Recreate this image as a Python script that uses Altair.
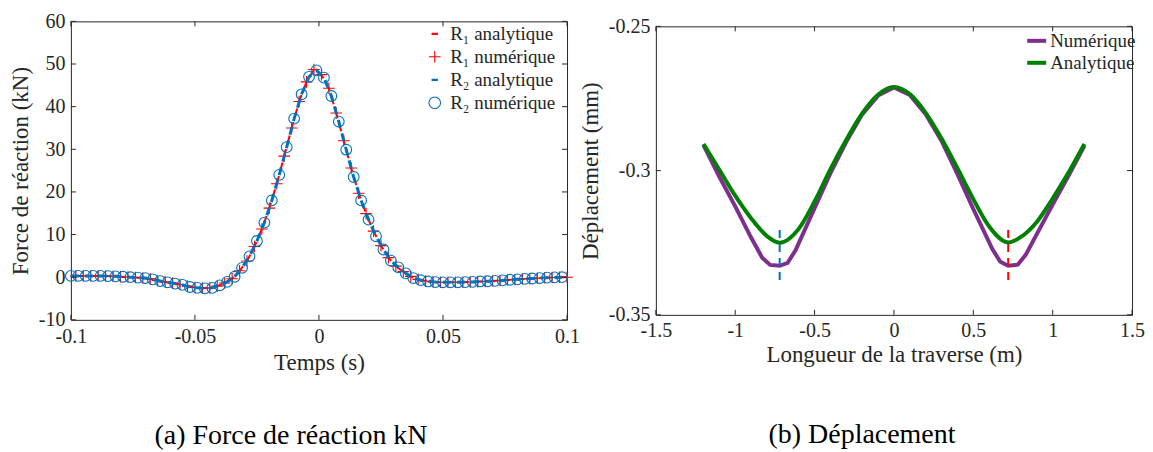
import altair as alt
import pandas as pd

# ---------------- (a) reaction forces ----------------
t_r2 = [-0.100, -0.097, -0.094, -0.091, -0.088, -0.085, -0.082, -0.079, -0.076, -0.073,
        -0.070, -0.067, -0.064, -0.061, -0.058, -0.055, -0.052, -0.049, -0.046, -0.043,
        -0.040, -0.037, -0.034, -0.031, -0.028, -0.025, -0.022, -0.019, -0.016, -0.013,
        -0.010, -0.007, -0.004, -0.001, 0.002, 0.005, 0.008, 0.011, 0.014, 0.017,
        0.020, 0.023, 0.026, 0.029, 0.032, 0.035, 0.038, 0.041, 0.044, 0.047,
        0.050, 0.053, 0.056, 0.059, 0.062, 0.065, 0.068, 0.071, 0.074, 0.077,
        0.080, 0.083, 0.086, 0.089, 0.092, 0.095, 0.098]
r2 = [0.3, 0.3, 0.3, 0.3, 0.3, 0.25, 0.2, 0.1, 0.0, -0.1,
      -0.2, -0.5, -0.9, -1.2, -1.5, -1.8, -2.3, -2.5, -2.6, -2.5,
      -1.9, -1.1, 0.1, 2.2, 4.9, 8.5, 12.8, 18.0, 24.0, 30.5,
      37.2, 42.9, 47.0, 48.5, 46.8, 42.5, 36.5, 29.9, 23.5, 18.0,
      13.5, 9.6, 6.5, 3.9, 2.3, 0.9, -0.2, -0.7, -1.0, -1.15,
      -1.2, -1.2, -1.2, -1.15, -1.1, -1.0, -0.95, -0.85, -0.75, -0.6,
      -0.5, -0.4, -0.3, -0.2, -0.1, -0.05, 0.0]
t_r1 = [-0.098, -0.095, -0.092, -0.089, -0.086, -0.083, -0.080, -0.077, -0.074, -0.071,
        -0.068, -0.065, -0.062, -0.059, -0.056, -0.053, -0.050, -0.047, -0.044, -0.041,
        -0.038, -0.035, -0.032, -0.029, -0.026, -0.023, -0.020, -0.017, -0.014, -0.011,
        -0.008, -0.005, -0.002, 0.001, 0.004, 0.007, 0.010, 0.013, 0.016, 0.019,
        0.022, 0.025, 0.028, 0.031, 0.034, 0.037, 0.040, 0.043, 0.046, 0.049,
        0.052, 0.055, 0.058, 0.061, 0.064, 0.067, 0.070, 0.073, 0.076, 0.079,
        0.082, 0.085, 0.088, 0.091, 0.094, 0.097, 0.100]
r1 = [0.3, 0.3, 0.3, 0.3, 0.27, 0.22, 0.13, 0.03, -0.07, -0.17,
      -0.4, -0.77, -1.1, -1.4, -1.7, -2.1, -2.43, -2.57, -2.53, -2.1,
      -1.37, -0.37, 1.5, 3.8, 7.2, 11.3, 16.2, 21.9, 28.4, 35.0,
      41.2, 45.8, 48.7, 47.5, 44.3, 38.5, 32.0, 25.6, 19.7, 14.9,
      10.8, 7.4, 4.6, 2.6, 1.3, 0.2, -0.5, -0.9, -1.1, -1.18,
      -1.2, -1.2, -1.17, -1.12, -1.03, -0.97, -0.88, -0.78, -0.65, -0.53,
      -0.43, -0.33, -0.23, -0.13, -0.07, -0.02, 0.0]
x_ticks_a = [-0.1, -0.05, 0, 0.05, 0.1]
y_ticks_a = [-10, 0, 10, 20, 30, 40, 50, 60]
series_a = ["R₁ analytique", "R₁ numérique", "R₂ analytique", "R₂ numérique"]

# ---------------- (b) displacement ----------------
x_num = [-1.2, -1.1, -1.0, -0.9, -0.83, -0.78, -0.72, -0.67, -0.62, -0.5, -0.4, -0.3, -0.2, -0.1, 0.0,
         0.1, 0.2, 0.3, 0.4, 0.5, 0.62, 0.67, 0.72, 0.78, 0.83, 0.9, 1.0, 1.1, 1.2]
u_num = [-0.2912, -0.3022, -0.3124, -0.3232, -0.3302, -0.3327, -0.3330, -0.3320, -0.3276, -0.3130,
         -0.3009, -0.2900, -0.2805, -0.2740, -0.2712,
         -0.2738, -0.2805, -0.2897, -0.3012, -0.3133, -0.3272, -0.3316, -0.3330, -0.3326, -0.3292,
         -0.3220, -0.3118, -0.3018, -0.2914]
x_ana = [-1.2, -1.1, -1.0, -0.9, -0.8, -0.72, -0.6, -0.5, -0.4, -0.3, -0.2, -0.1, 0.0,
         0.1, 0.2, 0.3, 0.4, 0.5, 0.6, 0.72, 0.8, 0.9, 1.0, 1.1, 1.2]
u_ana = [-0.2908, -0.2997, -0.3087, -0.3165, -0.3227, -0.3250, -0.3202, -0.3107, -0.2995, -0.2893,
         -0.2802, -0.2737, -0.2710,
         -0.2735, -0.2800, -0.2889, -0.2992, -0.3099, -0.3194, -0.3249, -0.3230, -0.3178, -0.3097,
         -0.3007, -0.2908]
marker_x = [-0.72, 0.72]
marker_top = [-0.3206, -0.3206]
marker_bottom = [-0.3400, -0.3400]
x_ticks_b = [-1.5, -1, -0.5, 0, 0.5, 1, 1.5]
y_ticks_b = [-0.35, -0.3, -0.25]
series_b = ["Numérique", "Analytique"]

# ---------------- styling ----------------
FONT = "Liberation Serif"
TXT = "#262626"
RED, BLUE = "#FF0000", "#0072BD"
PURPLE, GREEN = "#7E2F8E", "#008000"
WA, HA = 497, 299
WB, HB = 477, 289
TICK = 5
PLUS = "M-1,0L1,0M0,-1L0,1"
CIRC = "M1,0A1,1,0,1,1,-1,0A1,1,0,1,1,1,0Z"
DASH = "M-0.55,-0.1L0.55,-0.1M-0.55,0L0.55,0M-0.55,0.1L0.55,0.1"
MINUS_FIX = "replace(datum.label, '\u2212', '-')"

# ---------------- chart (a) ----------------
df_r1 = pd.DataFrame({"t": t_r1, "f": r1})
df_r2 = pd.DataFrame({"t": t_r2, "f": r2})

xa = alt.X("t:Q", scale=alt.Scale(domain=[-0.1, 0.1], nice=False, zero=False),
           axis=alt.Axis(values=x_ticks_a, format="~g", labelExpr=MINUS_FIX,
                         title="Temps (s)", titlePadding=5, labelPadding=7))
ya = alt.Y("f:Q", scale=alt.Scale(domain=[-10, 60], nice=False, zero=False),
           axis=alt.Axis(values=y_ticks_a, format="d", labelExpr=MINUS_FIX,
                         title="Force de réaction (kN)", titlePadding=6))

leg_a = alt.Legend(title=None, orient="none", legendX=355, legendY=3,
                   labelFontSize=19, symbolSize=135, symbolStrokeWidth=1.1,
                   rowPadding=3, labelOffset=6, symbolFillColor="transparent")
col_a = alt.Color("sa:N", scale=alt.Scale(domain=series_a, range=[RED, RED, BLUE, BLUE]), legend=leg_a)
shp_a = alt.Shape("sa:N", scale=alt.Scale(domain=series_a, range=[DASH, PLUS, DASH, CIRC]), legend=leg_a)

l_r1a = alt.Chart(df_r1.assign(sa=series_a[0])).mark_line(strokeWidth=2, strokeDash=[8, 6]).encode(
    x=xa, y=ya, color=col_a)
l_r1n = alt.Chart(df_r1.assign(sa=series_a[1])).mark_point(filled=False, size=135, strokeWidth=1.1, opacity=1).encode(
    x=xa, y=ya, color=col_a, shape=shp_a)
l_r2a = alt.Chart(df_r2.assign(sa=series_a[2])).mark_line(strokeWidth=3, strokeDash=[8, 6]).encode(
    x=xa, y=ya, color=col_a)
l_r2n = alt.Chart(df_r2.assign(sa=series_a[3])).mark_point(filled=False, size=115, strokeWidth=1.1, opacity=1).encode(
    x=xa, y=ya, color=col_a, shape=shp_a)

dxa = pd.DataFrame({"t": x_ticks_a})
dya = pd.DataFrame({"f": y_ticks_a})
ticks_a = [
    alt.Chart(dxa).mark_rule(color=TXT).encode(x=xa, y=alt.value(HA), y2=alt.value(HA - TICK)),
    alt.Chart(dxa).mark_rule(color=TXT).encode(x=xa, y=alt.value(0), y2=alt.value(TICK)),
    alt.Chart(dya).mark_rule(color=TXT).encode(y=ya, x=alt.value(0), x2=alt.value(TICK)),
    alt.Chart(dya).mark_rule(color=TXT).encode(y=ya, x=alt.value(WA), x2=alt.value(WA - TICK)),
]

chart_a = alt.layer(l_r1a, l_r1n, l_r2a, l_r2n, *ticks_a).properties(
    width=WA, height=HA,
    title=alt.TitleParams("(a) Force de réaction kN", orient="bottom", offset=47, dx=-28,
                          font=FONT, fontSize=28, fontWeight="normal", color="#000"))

# ---------------- chart (b) ----------------
xb = alt.X("x:Q", scale=alt.Scale(domain=[-1.5, 1.5], nice=False, zero=False),
           axis=alt.Axis(values=x_ticks_b, format="~g", labelExpr=MINUS_FIX,
                         title="Longueur de la traverse (m)", titlePadding=3))
yb = alt.Y("u:Q", scale=alt.Scale(domain=[-0.35, -0.25], nice=False, zero=False),
           axis=alt.Axis(values=y_ticks_b, format="~g", labelExpr=MINUS_FIX,
                         title="Déplacement (mm)", titlePadding=6))
leg_b = alt.Legend(title=None, orient="none", legendX=370, legendY=8,
                   labelFontSize=19, symbolType="stroke", symbolSize=361, symbolStrokeWidth=4,
                   rowPadding=0, labelOffset=2)
col_b = alt.Color("sb:N", scale=alt.Scale(domain=series_b, range=[PURPLE, GREEN]), legend=leg_b)

df_num = pd.DataFrame({"x": x_num, "u": u_num, "sb": series_b[0]})
df_ana = pd.DataFrame({"x": x_ana, "u": u_ana, "sb": series_b[1]})
l_num = alt.Chart(df_num).mark_line(strokeWidth=4).encode(x=xb, y=yb, color=col_b)
l_ana = alt.Chart(df_ana).mark_line(strokeWidth=4, interpolate="monotone").encode(x=xb, y=yb, color=col_b)

df_mark = pd.DataFrame({"x": marker_x, "u": marker_top, "u2": marker_bottom})
m_left = alt.Chart(df_mark.iloc[[0]]).mark_rule(color=BLUE, strokeWidth=2, strokeDash=[8, 6]).encode(
    x=xb, y=yb, y2="u2:Q")
m_right = alt.Chart(df_mark.iloc[[1]]).mark_rule(color=RED, strokeWidth=2, strokeDash=[8, 6]).encode(
    x=xb, y=yb, y2="u2:Q")

dxb = pd.DataFrame({"x": x_ticks_b})
dyb = pd.DataFrame({"u": y_ticks_b})
ticks_b = [
    alt.Chart(dxb).mark_rule(color=TXT).encode(x=xb, y=alt.value(HB), y2=alt.value(HB - TICK)),
    alt.Chart(dxb).mark_rule(color=TXT).encode(x=xb, y=alt.value(0), y2=alt.value(TICK)),
    alt.Chart(dyb).mark_rule(color=TXT).encode(y=yb, x=alt.value(0), x2=alt.value(TICK)),
    alt.Chart(dyb).mark_rule(color=TXT).encode(y=yb, x=alt.value(WB), x2=alt.value(WB - TICK)),
]

chart_b = alt.layer(l_num, l_ana, m_left, m_right, *ticks_b).properties(
    width=WB, height=HB,
    title=alt.TitleParams("(b) Déplacement", orient="bottom", offset=54, dx=-32,
                          font=FONT, fontSize=28, fontWeight="normal", color="#000"))

# thin invisible spacer pushing panel (b) down a few pixels
spacer = alt.Chart(pd.DataFrame({"z": [0]})).mark_point(opacity=0).encode(
    x=alt.value(0), y=alt.value(0)
).properties(width=WB, height=1, view=alt.ViewBackground(stroke="transparent"))
right = alt.vconcat(spacer, chart_b, spacing=4, bounds="flush")

chart = alt.hconcat(chart_a, right, spacing=89, bounds="flush").resolve_scale(
    color="independent", shape="independent"
).resolve_legend(color="independent", shape="independent").properties(
    padding={"left": 0, "top": 2, "right": 0, "bottom": 0}
).configure_view(stroke=TXT, strokeWidth=1).configure_axis(
    labelFont=FONT, titleFont=FONT, labelFontSize=20, titleFontSize=23,
    labelColor=TXT, titleColor=TXT, titleFontWeight="normal",
    domain=False, grid=False, ticks=False, labelPadding=6,
    labelFlush=False, labelOverlap=False
).configure_legend(labelFont=FONT, labelColor=TXT)

chart.save("out.html", embed_options={"renderer": "svg", "actions": False})
